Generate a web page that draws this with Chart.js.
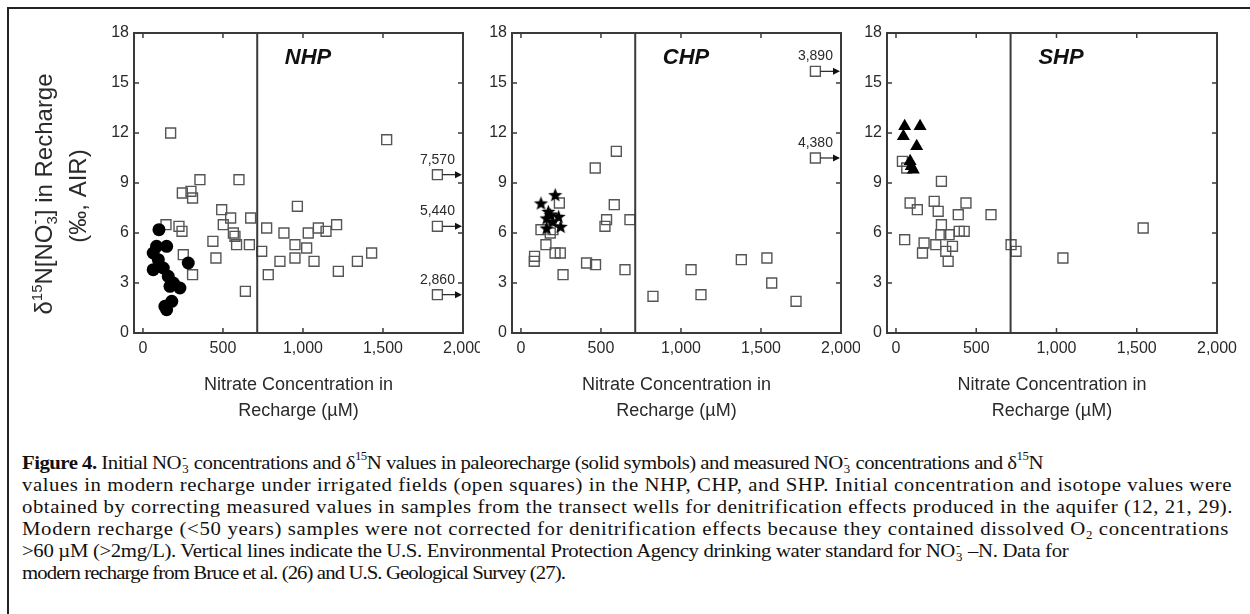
<!DOCTYPE html>
<html><head><meta charset="utf-8">
<script src="https://cdn.jsdelivr.net/npm/chart.js@4.4.1/dist/chart.umd.min.js"></script>
<style>
html,body{margin:0;padding:0;background:#fff;}
body{width:1250px;height:614px;position:relative;overflow:hidden;}
#frame{position:absolute;left:7px;top:7px;width:1300px;height:700px;border:2px solid #222;box-sizing:border-box;}
canvas{position:absolute;top:0;}
#c1{left:0}#c2{left:480px}#c3{left:860px}
#cap{position:absolute;left:22px;top:452px;font-family:'Liberation Serif','Times New Roman',serif;font-size:19.5px;line-height:22px;color:#111;white-space:nowrap;}
.ln{height:22px;width:max-content;transform-origin:0 50%;}
.ss{display:inline-flex;flex-direction:column;font-size:0.62em;line-height:0.85em;vertical-align:0.55em;margin:0 1px;}
#cap sup{font-size:0.62em;line-height:0;vertical-align:0.75em;}
#cap sub{font-size:0.62em;line-height:0;vertical-align:-0.3em;}
</style></head>
<body>
<div id="frame"></div>
<canvas id="c1" width="480" height="430"></canvas>
<canvas id="c2" width="380" height="430"></canvas>
<canvas id="c3" width="390" height="430"></canvas>
<div id="cap">
<div class="ln"><b>Figure 4.</b> Initial NO<span class="ss"><span>-</span><span>3</span></span> concentrations and δ<sup>15</sup>N values in paleorecharge (solid symbols) and measured NO<span class="ss"><span>-</span><span>3</span></span> concentrations and δ<sup>15</sup>N</div>
<div class="ln">values in modern recharge under irrigated fields (open squares) in the NHP, CHP, and SHP. Initial concentration and isotope values were</div>
<div class="ln">obtained by correcting measured values in samples from the transect wells for denitrification effects produced in the aquifer (12, 21, 29).</div>
<div class="ln">Modern recharge (&lt;50 years) samples were not corrected for denitrification effects because they contained dissolved O<sub>2</sub> concentrations</div>
<div class="ln">&gt;60 µM (&gt;2mg/L). Vertical lines indicate the U.S. Environmental Protection Agency drinking water standard for NO<span class="ss"><span>-</span><span>3</span></span> –N. Data for</div>
<div class="ln">modern recharge from Bruce et al. (26) and U.S. Geological Survey (27).</div>
</div>
<script>
// ---------- axes / ticks ----------
const xTickValues = [0, 500, 1000, 1500, 2000];
const yTickValues = [0, 3, 6, 9, 12, 15, 18];
const EPA_STANDARD_UM = 714;
const X_MIN = -56, X_MAX = 2000, Y_MIN = 0, Y_MAX = 18;
const xTitleLines = ['Nitrate Concentration in', 'Recharge (\u00b5M)'];
const panelNames = ['NHP', 'CHP', 'SHP'];

// ---------- NHP ----------
const nhpModernX = [173,246,300,310,356,600,144,225,244,252,310,437,456,492,548,502,565,575,585,665,673,640,742,773,783,856,881,965,950,950,1023,1033,1069,1096,1144,1210,1221,1340,1429,1523];
const nhpModernY = [12.0,8.4,8.5,8.1,9.2,9.2,6.5,6.4,6.1,4.7,3.5,5.5,4.5,7.4,6.9,6.5,6.0,5.8,5.3,5.3,6.9,2.5,4.9,6.3,3.5,4.3,6.0,7.6,5.3,4.5,5.1,6.0,4.3,6.3,6.1,6.5,3.7,4.3,4.8,11.6];
const nhpPaleoX = [100,85,148,64,96,64,127,158,190,231,169,283,180,148,137];
const nhpPaleoY = [6.2,5.2,5.2,4.8,4.4,3.8,3.9,3.4,3.0,2.7,2.8,4.2,1.9,1.4,1.6];
const nhpOffConc = [7570, 5440, 2860];
const nhpOffD15N = [9.5, 6.4, 2.3];

// ---------- CHP ----------
const chpModernX = [596,464,583,535,525,681,240,125,190,200,183,156,85,83,213,246,263,410,466,650,825,1063,1125,1377,1537,1567,1719,1635];
const chpModernY = [10.9,9.9,7.7,6.8,6.4,6.8,7.8,6.2,6.9,6.2,6.0,5.3,4.6,4.3,4.8,4.8,3.5,4.2,4.1,3.8,2.2,3.8,2.3,4.4,4.5,3.0,1.9,-0.3];
const chpPaleoX = [125,214,171,160,198,235,248,160,185];
const chpPaleoY = [7.8,8.3,7.3,6.9,6.7,7.0,6.4,6.3,7.1];
const chpOffConc = [3890, 4380];
const chpOffD15N = [15.7, 10.5];

// ---------- SHP ----------
const shpModernX = [40,67,283,88,133,238,263,436,388,592,54,175,165,283,279,331,394,425,248,310,352,325,717,748,1040,1540];
const shpModernY = [10.3,9.9,9.1,7.8,7.4,7.9,7.3,7.8,7.1,7.1,5.6,5.4,4.8,6.5,5.9,5.9,6.1,6.1,5.3,4.9,5.2,4.3,5.3,4.9,4.5,6.3];
const shpPaleoX = [54,150,46,129,88,108,95];
const shpPaleoY = [12.4,12.4,11.8,11.2,10.3,9.8,10.0];

// where off-scale samples are drawn (just inside the right axis)
const OFF_X = 1840;

const FONT = '"Liberation Sans", Arial, Helvetica, sans-serif';
const TXT = '#2a2a2a';

function pts(xs, ys) { return xs.map((x, i) => ({ x, y: ys[i] })); }

function starImage(r) {
  const c = document.createElement('canvas');
  const s = Math.ceil(r * 2 + 2);
  c.width = c.height = s;
  const g = c.getContext('2d');
  g.translate(s / 2, s / 2 + r * 0.1);
  g.beginPath();
  for (let i = 0; i < 10; i++) {
    const rr = i % 2 ? r * 0.42 : r;
    const a = -Math.PI / 2 + i * Math.PI / 5;
    g.lineTo(rr * Math.cos(a), rr * Math.sin(a));
  }
  g.closePath();
  g.fillStyle = '#000';
  g.fill();
  return c;
}
const STAR = starImage(7.5);

const squareStyle = { pointStyle: 'rect', pointRadius: 7, pointHoverRadius: 7, pointBorderColor: '#555', pointBorderWidth: 1.4, pointBackgroundColor: 'rgba(255,255,255,0)' };

function drawRich(ctx, segs, cx, cy, size) {
  ctx.save();
  ctx.translate(cx, cy);
  ctx.rotate(-Math.PI / 2);
  ctx.textBaseline = 'alphabetic';
  ctx.textAlign = 'left';
  ctx.fillStyle = TXT;
  const small = Math.round(size * 0.62);
  const w = segs.map(s => {
    ctx.font = (s.small ? small : size) + 'px ' + FONT;
    return s.stack ? Math.max(...s.stack.map(t => ctx.measureText(t).width)) : ctx.measureText(s.t).width;
  });
  const total = w.reduce((p, c) => p + c, 0);
  let xx = -total / 2;
  const base = size * 0.36;
  segs.forEach((s, i) => {
    ctx.font = (s.small ? small : size) + 'px ' + FONT;
    if (s.stack) {
      ctx.fillText(s.stack[0], xx, base - size * 0.48);
      ctx.fillText(s.stack[1], xx, base + size * 0.22);
    } else {
      ctx.fillText(s.t, xx, base - (s.sup ? size * 0.42 : 0));
    }
    xx += w[i];
  });
  ctx.restore();
}

const decor = {
  id: 'decor',
  afterDatasetsDraw(chart, args, o) {
    const { ctx, chartArea: a, scales: { x, y } } = chart;
    ctx.save();
    const L = (x1, y1, x2, y2) => { ctx.beginPath(); ctx.moveTo(x1, y1); ctx.lineTo(x2, y2); ctx.stroke(); };
    ctx.strokeStyle = '#3a3a3a';
    ctx.lineWidth = 2;
    const xr = x.getPixelForValue(EPA_STANDARD_UM);
    L(xr, a.top, xr, a.bottom);
    ctx.strokeRect(a.left, a.top, a.right - a.left, a.bottom - a.top);
    ctx.lineWidth = 1.5;
    xTickValues.forEach(v => {
      if (v <= X_MIN || v >= X_MAX) return;
      const px = x.getPixelForValue(v);
      L(px, a.bottom, px, a.bottom - 5);
      L(px, a.top, px, a.top + 5);
    });
    yTickValues.forEach(v => {
      if (v <= Y_MIN || v >= Y_MAX) return;
      const py = y.getPixelForValue(v);
      L(a.left, py, a.left + 5, py);
      L(a.right, py, a.right - 5, py);
    });
    const conc = o.offConc || [], d = o.offD15N || [];
    ctx.textAlign = 'center';
    ctx.textBaseline = 'middle';
    conc.forEach((c, i) => {
      const px = x.getPixelForValue(OFF_X), py = y.getPixelForValue(d[i]);
      ctx.fillStyle = TXT;
      ctx.font = '14px ' + FONT;
      ctx.fillText(c.toLocaleString('en-US'), px, py - 15);
      ctx.strokeStyle = '#222';
      ctx.lineWidth = 1.2;
      L(px + 5, py, a.right - 5, py);
      ctx.beginPath();
      ctx.moveTo(a.right - 1, py);
      ctx.lineTo(a.right - 8, py - 3.5);
      ctx.lineTo(a.right - 8, py + 3.5);
      ctx.closePath();
      ctx.fillStyle = '#111';
      ctx.fill();
    });
    ctx.fillStyle = '#111';
    ctx.font = 'italic bold 22px ' + FONT;
    ctx.fillText(o.name, a.left + 174, a.top + 25);
    if (o.yTitle) {
      drawRich(ctx, [{ t: 'δ' }, { t: '15', small: true, sup: true }, { t: 'N[NO' }, { stack: ['-', '3'], small: true }, { t: '] in Recharge' }], 43, 194, 24);
      drawRich(ctx, [{ t: '(‰, AIR)' }], 77, 196, 24);
    }
    ctx.restore();
  }
};

function makePanel(id, p) {
  const datasets = [
    Object.assign({ data: pts(p.paleoX, p.paleoY) }, p.paleoStyle),
    Object.assign({ data: pts(p.modernX, p.modernY) }, squareStyle),
  ];
  if (p.offConc) datasets.push(Object.assign({ data: p.offD15N.map(v => ({ x: OFF_X, y: v })) }, squareStyle));
  return new Chart(document.getElementById(id), {
    type: 'scatter',
    data: { datasets },
    options: {
      responsive: false, animation: false, devicePixelRatio: 1,
      layout: { padding: { left: 0, top: 33, right: p.padRight, bottom: 0 } },
      plugins: { legend: { display: false }, tooltip: { enabled: false },
        decor: { name: p.name, offConc: p.offConc, offD15N: p.offD15N, yTitle: p.yTitle } },
      scales: {
        x: {
          type: 'linear', min: X_MIN, max: X_MAX,
          afterBuildTicks: s => { s.ticks = xTickValues.map(v => ({ value: v })); },
          ticks: { callback: v => v.toLocaleString('en-US'), color: TXT, font: { family: FONT, size: 16 }, padding: 6, maxRotation: 0, autoSkip: false },
          grid: { display: false, drawTicks: false }, border: { display: false },
          title: { display: true, text: xTitleLines, color: TXT, font: { family: FONT, size: 18, lineHeight: 1.45 }, padding: { top: 0, bottom: 6 } },
          afterFit: s => { s.height = 97; s.paddingLeft = 0; s.paddingRight = 0; }
        },
        y: {
          type: 'linear', min: Y_MIN, max: Y_MAX,
          afterBuildTicks: s => { s.ticks = yTickValues.map(v => ({ value: v })); },
          ticks: { color: TXT, font: { family: FONT, size: 16 }, padding: 5 },
          grid: { display: false, drawTicks: false }, border: { display: false },
          afterFit: s => { s.width = p.yWidth; s.paddingTop = 0; s.paddingBottom = 0; }
        }
      }
    },
    plugins: [decor]
  });
}

const circleStyle = { pointStyle: 'circle', pointRadius: 6.5, pointHoverRadius: 6.5, pointBackgroundColor: '#000', pointBorderColor: '#000', pointBorderWidth: 0 };
const starStyle = { pointStyle: STAR, pointRadius: 7, pointHoverRadius: 7 };
const triStyle = { pointStyle: 'triangle', pointRadius: 7.5, pointHoverRadius: 7.5, pointBackgroundColor: '#000', pointBorderColor: '#000', pointBorderWidth: 0 };

makePanel('c1', { name: panelNames[0], yWidth: 134, padRight: 17, yTitle: true,
  modernX: nhpModernX, modernY: nhpModernY, paleoX: nhpPaleoX, paleoY: nhpPaleoY, paleoStyle: circleStyle,
  offConc: nhpOffConc, offD15N: nhpOffD15N });
makePanel('c2', { name: panelNames[1], yWidth: 32, padRight: 19,
  modernX: chpModernX, modernY: chpModernY, paleoX: chpPaleoX, paleoY: chpPaleoY, paleoStyle: starStyle,
  offConc: chpOffConc, offD15N: chpOffD15N });
makePanel('c3', { name: panelNames[2], yWidth: 27, padRight: 33,
  modernX: shpModernX, modernY: shpModernY, paleoX: shpPaleoX, paleoY: shpPaleoY, paleoStyle: triStyle });

// uniform horizontal condensing of the caption, with per-line letter spacing to reach the reference line lengths
(function () {
  const lineWidths = [1020, 1210, 1211, 1207, 1046, 543];
  const lines = Array.from(document.querySelectorAll('#cap .ln'));
  const w = lines.map(ln => ln.getBoundingClientRect().width);
  const ratios = w.map((v, i) => lineWidths[i] / v);
  const S = ratios.reduce((p, c) => p + c, 0) / ratios.length;
  lines.forEach((ln, i) => {
    const n = ln.textContent.length;
    ln.style.letterSpacing = ((lineWidths[i] / S - w[i]) / n).toFixed(3) + 'px';
    ln.style.transform = 'scaleX(' + S.toFixed(4) + ')';
  });
})();
</script>
</body></html>
